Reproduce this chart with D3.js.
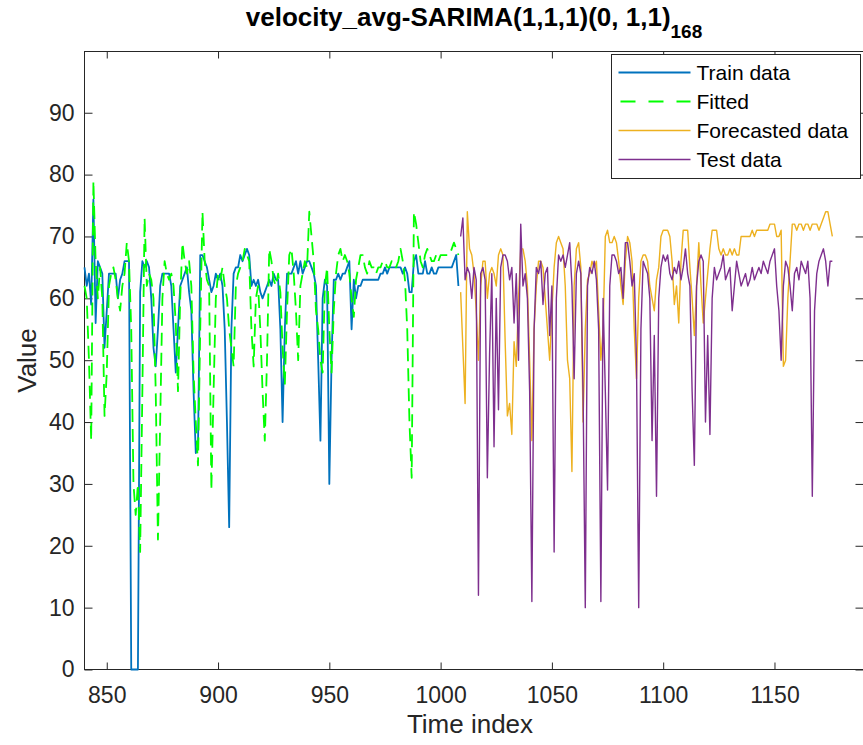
<!DOCTYPE html>
<html>
<head>
<meta charset="utf-8">
<script src="https://cdn.jsdelivr.net/npm/d3@7"></script>
<style>
  body { margin: 0; background: #fff; }
  svg { display: block; font-family: "Liberation Sans", Arial, Helvetica, sans-serif; }
</style>
</head>
<body>
<div id="chart"></div>
<script>
// --------------------------------------
//  Data
// --------------------------------------

const trainStart = 840;
const trainData = [
  65,62,64,59,76,56,66,65,64,52,
  58,64,64,64,64,60,63,64,66,66,
  66,0,0,0,0,61,66,65,66,65,
  60,52,49,55,62,64,64,64,64,62,
  55,48,55,62,63,64,65,61,58,45,
  35,36,67,67,66,65,63,61,62,64,
  63,64,62,55,40,23,55,64,65,65,
  67,66,67,68,67,62,63,62,63,61,
  60,61,62,63,62,64,63,63,55,40,
  55,64,64,64,65,66,64,66,64,65,
  66,66,65,64,62,50,37,60,63,62,
  30,50,63,63,64,63,64,64,65,66,
  55,63,60,62,62,63,63,63,63,63,
  63,63,63,64,64,65,64,65,65,65,
  65,65,65,64,65,64,61,61,66,67,
  64,64,64,66,64,64,65,64,64,65,
  65,65,65,65,65,65,66,67,62
];

const fittedData = [
  62,60,50,37,79,66,60,65,60,41,
  48,62,64,65,63,60,58,62,64,69,
  66,55,30,25,30,19,45,73,62,64,
  63,60,45,21,40,60,66,64,63,64,
  62,56,45,60,69,66,64,66,62,48,
  40,33,55,74,66,63,62,29,45,60,
  64,63,65,62,60,55,52,49,62,64,
  65,66,68,67,66,55,49,60,62,55,
  45,37,50,68,66,63,62,64,61,52,
  46,58,67,68,64,58,50,62,64,66,
  65,74,70,66,58,55,50,48,62,65,
  55,48,58,64,67,68,66,67,66,64,
  60,57,63,65,67,67,65,64,66,65,
  65,64,65,65,66,66,65,65,66,66,
  65,66,68,66,63,55,40,31,74,72,
  69,66,65,67,68,67,66,66,67,66,
  67,67,67,67,67,68,69,68,67
];

const testStart = 1009;
const testData = [
  70,73,63,65,64,60,65,63,12,64,
  65,63,31,51,64,36,60,42,65,67,
  67,66,63,65,56,64,50,72,62,64,
  60,45,11,55,65,64,66,59,64,65,
  54,62,19,60,67,66,67,65,67,69,
  62,47,64,66,64,45,10,62,65,64,
  66,63,55,11,60,45,29,62,67,67,
  66,64,65,60,69,69,66,62,64,50,
  10,55,66,65,64,60,37,54,28,60,
  65,67,66,67,64,63,65,64,66,63,
  65,68,64,62,45,33,62,66,67,66,
  40,54,38,60,65,63,64,65,67,63,
  64,65,58,62,66,64,62,63,64,62,
  63,65,63,64,65,64,66,65,64,66,
  67,68,62,58,50,62,66,65,62,58,
  64,65,63,66,65,64,66,60,28,58,
  64,66,67,68,66,62,66,66
];

const forecastData = [
  61,52,43,74,68,67,64,58,50,62,
  66,66,60,64,65,64,62,67,68,67,
  53,41,43,38,53,49,60,68,68,66,
  62,50,37,55,62,66,66,65,60,55,
  50,58,65,69,70,69,68,62,50,47,
  32,62,68,69,65,40,55,63,64,66,
  65,66,58,50,55,70,71,69,69,70,
  69,66,62,59,66,70,69,66,55,47,
  60,66,67,67,66,62,60,58,63,65,
  70,71,71,71,70,66,59,62,56,66,
  71,71,71,65,60,54,62,69,62,56,
  60,64,68,71,71,71,68,67,68,67,
  67,68,67,68,67,67,70,70,70,70,
  70,71,70,71,71,71,71,71,71,72,
  72,72,70,70,71,49,50,60,66,72,
  72,71,72,72,71,72,72,71,72,72,
  72,71,72,73,74,74,72,70
];

const xTicks = [850, 900, 950, 1000, 1050, 1100, 1150];
const yTicks = [0, 10, 20, 30, 40, 50, 60, 70, 80, 90];
const seriesNames = ["Train data", "Fitted", "Forecasted data", "Test data"];
const seriesColors = ["#0072BD", "#00FF00", "#EDB120", "#7E2F8E"];

// --------------------------------------
//  Margin and canvas
// --------------------------------------

const margin = {top: 51.5, right: -0.5, bottom: 75.5, left: 84.5};
const width = 863;
const height = 745;
const innerwidth = width - margin.left - margin.right;
const innerheight = height - margin.top - margin.bottom;
const axisColor = "#262626";

const svg = d3.select("#chart")
  .append("svg")
    .attr("width", width)
    .attr("height", height)
    .attr("viewBox", `0, 0, ${width}, ${height}`);

svg.append("rect")
    .attr("width", width)
    .attr("height", height)
    .attr("fill", "#fff");

const innerChart = svg
  .append("g")
    .attr("transform", `translate(${margin.left}, ${margin.top})`);

// --------------------------------------
//  Scales
// --------------------------------------

const x = d3.scaleLinear()
    .domain([840, 1190])
    .range([0, innerwidth]);

const y = d3.scaleLinear()
    .domain([0, 99.9])
    .range([innerheight, 0]);

// --------------------------------------
//  Axes
// --------------------------------------

innerChart.append("g")
    .attr("class", "x-axis")
    .attr("transform", `translate(0, ${innerheight})`)
    .call(d3.axisBottom(x)
        .tickValues(xTicks)
        .tickFormat(d3.format("d"))
        .tickSizeInner(-7)
        .tickSizeOuter(0)
        .tickPadding(17));

innerChart.append("g")
    .attr("class", "x-axis-top")
    .call(d3.axisTop(x)
        .tickValues(xTicks)
        .tickSizeInner(-7)
        .tickSizeOuter(0)
        .tickFormat(""));

innerChart.append("g")
    .attr("class", "y-axis")
    .call(d3.axisLeft(y)
        .tickValues(yTicks)
        .tickSizeInner(-8)
        .tickSizeOuter(0)
        .tickPadding(10));

innerChart.append("g")
    .attr("class", "y-axis-right")
    .attr("transform", `translate(${innerwidth}, 0)`)
    .call(d3.axisRight(y)
        .tickValues(yTicks)
        .tickSizeInner(-8)
        .tickSizeOuter(0)
        .tickFormat(""));

innerChart.selectAll(".domain").remove();
innerChart.selectAll(".tick line").attr("stroke", axisColor);
innerChart.selectAll(".tick text")
    .attr("fill", axisColor)
    .style("font-size", "23px")
    .style("font-family", "'Liberation Sans', Arial, sans-serif");

// box
innerChart.append("rect")
    .attr("width", innerwidth)
    .attr("height", innerheight)
    .attr("fill", "none")
    .attr("stroke", axisColor)
    .attr("stroke-width", 1);

// --------------------------------------
//  Data drawing
// --------------------------------------

const toPoints = (arr, start) => arr.map((v, i) => ({t: start + i, v: v}));

const series = [
  {name: seriesNames[0], color: seriesColors[0], pts: toPoints(trainData, trainStart), w: 1.8, dash: null},
  {name: seriesNames[1], color: seriesColors[1], pts: toPoints(fittedData, trainStart), w: 1.8, dash: "13,7"},
  {name: seriesNames[2], color: seriesColors[2], pts: toPoints(forecastData, testStart), w: 1.4, dash: null},
  {name: seriesNames[3], color: seriesColors[3], pts: toPoints(testData, testStart), w: 1.4, dash: null}
];

const line = d3.line()
    .x(d => x(d.t))
    .y(d => y(d.v));

innerChart.append("g")
    .selectAll("path")
    .data(series)
    .join("path")
    .attr("d", d => line(d.pts))
    .attr("fill", "none")
    .attr("stroke", d => d.color)
    .attr("stroke-width", d => d.w)
    .attr("stroke-linejoin", "round")
    .attr("stroke-dasharray", d => d.dash);

// --------------------------------------
//  Legend
// --------------------------------------

const legend = svg.append("g")
    .attr("transform", "translate(611.5, 54.5)");

legend.append("rect")
    .attr("width", 249)
    .attr("height", 124)
    .attr("fill", "#fff")
    .attr("stroke", axisColor)
    .attr("stroke-width", 1);

const items = legend.selectAll(".item")
    .data(series)
    .join("g")
    .attr("class", "item")
    .attr("transform", (d, i) => `translate(0, ${18 + i * 29})`);

items.append("line")
    .attr("x1", 7)
    .attr("x2", 79)
    .attr("stroke", d => d.color)
    .attr("stroke-width", d => d.w)
    .attr("stroke-dasharray", d => d.dash ? "15,13" : null)
    .attr("stroke-dashoffset", -2);

items.append("text")
    .attr("x", 85)
    .attr("dy", "0.35em")
    .attr("fill", "#000")
    .style("font-size", "21px")
    .text(d => d.name);

// --------------------------------------
//  Title and labels
// --------------------------------------

const title = svg.append("text")
    .attr("x", margin.left + innerwidth / 2)
    .attr("y", 26)
    .attr("text-anchor", "middle")
    .attr("fill", "#000")
    .style("font-size", "26px")
    .style("font-weight", "bold");

title.append("tspan").text("velocity_avg-SARIMA(1,1,1)(0, 1,1)");
title.append("tspan")
    .attr("dy", 12)
    .style("font-size", "19px")
    .text("168");

svg.append("text")
    .attr("transform", `translate(36, ${margin.top + innerheight / 2}) rotate(-90)`)
    .attr("text-anchor", "middle")
    .attr("fill", axisColor)
    .style("font-size", "26px")
    .text("Value");

svg.append("text")
    .attr("x", margin.left + innerwidth / 2 - 4)
    .attr("y", 733)
    .attr("text-anchor", "middle")
    .attr("fill", axisColor)
    .style("font-size", "26px")
    .text("Time index");
</script>
</body>
</html>
